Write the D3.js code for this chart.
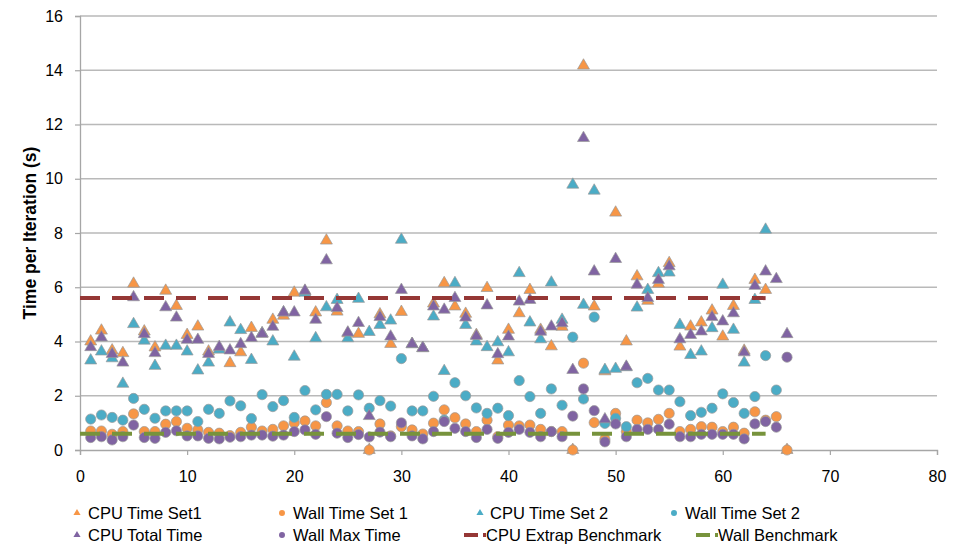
<!DOCTYPE html>
<html>
<head>
<meta charset="utf-8">
<script src="https://cdn.jsdelivr.net/npm/d3@7"></script>
<style>
  body { margin: 0; background: #ffffff; }
  svg { display: block; }
  text { font-family: "Liberation Sans", Arial, sans-serif; fill: #000; }
</style>
</head>
<body>
<svg id="chart" width="957" height="545"></svg>
<script>
// ---------------- DATA ----------------
const iterations = d3.range(1, 67); // 1..66

const cpuTimeSet1 = [4.0,4.4,3.67,3.57,6.13,4.37,3.78,5.87,5.31,4.24,4.55,3.63,3.71,3.2,3.6,4.5,4.3,4.8,4.95,5.8,
  5.85,5.07,7.72,5.1,4.3,4.28,0,5.0,3.91,5.09,3.9,3.75,5.4,6.15,5.29,5.02,4.24,5.97,3.3,4.43,
  5.04,5.9,4.43,3.82,4.54,0,14.17,5.29,2.9,8.75,4.0,6.4,5.5,6.13,6.89,3.81,4.55,4.7,5.14,4.18,
  5.31,3.66,6.27,5.9,null,0];

const wallTimeSet1 = [0.70,0.70,0.58,0.68,1.33,0.68,0.68,0.95,1.05,0.8,0.74,0.65,0.62,0.53,0.65,0.84,0.7,0.76,0.89,1.0,
  1.07,0.89,1.75,0.89,0.7,0.68,0,0.96,0.52,0.86,0.74,0.59,0.99,1.48,1.19,0.96,0.68,1.1,0.49,0.92,
  0.89,0.92,0.76,0.68,0.68,0,3.2,1.01,0.4,1.35,0.68,1.1,1.0,1.13,1.35,0.68,0.76,0.86,0.84,0.68,
  0.84,0.62,1.41,1.1,1.23,0];

const cpuTimeSet2 = [3.30,3.63,3.38,2.44,4.64,4.03,3.10,3.84,3.84,3.63,2.93,3.22,3.7,4.7,4.42,3.32,4.3,4.0,5.07,3.44,
  5.8,4.12,5.26,5.53,4.12,5.57,4.35,4.61,4.77,7.75,3.9,3.76,4.92,2.91,6.15,4.61,4.0,3.79,3.97,3.6,
  6.52,4.7,4.08,6.17,4.8,9.78,5.35,9.56,2.95,2.99,3.05,5.25,5.9,6.52,6.54,4.61,3.5,3.63,4.49,6.09,
  4.43,3.22,5.53,8.12,null,null];

const wallTimeSet2 = [1.14,1.29,1.2,1.1,1.9,1.5,1.17,1.44,1.44,1.44,1.05,1.5,1.35,1.81,1.63,1.16,2.04,1.6,1.82,1.2,
  2.19,1.48,2.05,2.05,1.44,2.03,1.54,1.82,1.62,3.37,1.44,1.44,1.98,1.1,2.48,2.0,1.55,1.35,1.54,1.27,
  2.56,1.97,1.35,2.25,1.65,4.16,1.88,4.9,0.98,1.17,0.86,2.48,2.64,2.21,2.21,1.78,1.27,1.39,1.54,2.07,
  1.75,1.35,1.97,3.48,2.21,null];

const cpuTotalTime = [3.79,4.15,3.54,3.22,5.63,4.27,3.57,5.26,4.88,4.06,4.06,3.54,3.8,3.67,3.9,4.13,4.28,4.54,5.07,5.07,
  5.87,4.8,6.99,5.23,4.33,4.68,1.25,4.9,4.18,5.9,3.91,3.76,5.29,5.17,5.6,4.88,4.2,5.33,3.53,4.18,
  5.47,5.53,4.36,4.55,4.67,2.95,11.5,6.58,1.13,7.04,3.07,6.09,5.6,6.27,6.77,4.08,4.24,4.37,4.9,4.74,
  5.04,3.6,6.05,6.58,6.3,4.27];

const wallMaxTime = [0.46,0.49,0.37,0.49,0.92,0.46,0.43,0.65,0.71,0.52,0.52,0.43,0.41,0.47,0.49,0.55,0.55,0.51,0.55,0.68,
  0.74,0.58,1.23,0.62,0.46,0.57,0.48,0.66,0.49,1.0,0.52,0.41,0.68,1.05,0.8,0.68,0.46,0.76,0.43,0.65,
  0.76,0.65,0.49,0.68,0.49,1.25,2.25,1.45,0.3,0.96,0.49,0.76,0.76,0.76,0.95,0.49,0.49,0.58,0.58,0.58,
  0.58,0.41,0.96,1.05,0.84,3.42];

const benchmarkX = [0, 64];
const cpuExtrapBenchmark = [5.6, 5.6];
const wallBenchmark = [0.6, 0.6];

const xTicks = [0,10,20,30,40,50,60,70,80];
const yTicks = [0,2,4,6,8,10,12,14,16];
const yAxisTitle = "Time per Iteration (s)";

const seriesNames = ["CPU Time Set1","Wall Time Set 1","CPU Time Set 2","Wall Time Set 2",
                     "CPU Total Time","Wall Max Time","CPU Extrap Benchmark","Wall Benchmark"];
const seriesColors = ["#F79646","#F79646","#4BACC6","#4BACC6","#8064A2","#8064A2","#953735","#77933C"];

// ---------------- CHART ----------------
const svg = d3.select("#chart");
const x = d3.scaleLinear().domain([0, 80]).range([80, 937]);
const y = d3.scaleLinear().domain([0, 16]).range([450, 16]);

// gridlines
svg.append("g").selectAll("line").data(yTicks.filter(d => d > 0)).join("line")
  .attr("x1", x(0)).attr("x2", x(80))
  .attr("y1", d => y(d)).attr("y2", d => y(d))
  .attr("stroke", "#b9b9b9").attr("stroke-width", 1.3);

// axes
const xAxis = d3.axisBottom(x).tickValues(xTicks).tickSize(5).tickPadding(16).tickFormat(d3.format("d"));
const gx = svg.append("g").attr("transform", `translate(0,${y(0)})`).call(xAxis);
const yAxis = d3.axisLeft(y).tickValues(yTicks).tickSize(5).tickPadding(12).tickFormat(d3.format("d"));
const gy = svg.append("g").attr("transform", `translate(${x(0)},0)`).call(yAxis);
[gx, gy].forEach(g => {
  g.select(".domain").attr("stroke", "#a6a6a6").attr("stroke-width", 1.3);
  g.selectAll(".tick line").attr("stroke", "#a6a6a6").attr("stroke-width", 1.2);
  g.selectAll(".tick text").attr("font-size", 16).attr("fill", "#000")
   .style("font-family", '"Liberation Sans", Arial, sans-serif');
});

svg.append("text")
  .attr("transform", `translate(36,${(y(0) + y(16)) / 2}) rotate(-90)`)
  .attr("text-anchor", "middle")
  .attr("font-size", 17.5).attr("font-weight", "bold")
  .text(yAxisTitle);

// markers
const triangle = d3.symbol().type(d3.symbolTriangle).size(62);
const circle = d3.symbol().type(d3.symbolCircle).size(82);

function drawMarkers(values, sym, color) {
  const pts = iterations.map((it, i) => ({ it, v: values[i] })).filter(d => d.v !== null);
  svg.append("g").selectAll("path").data(pts).join("path")
    .attr("d", sym)
    .attr("transform", d => `translate(${x(d.it)},${y(d.v)})`)
    .attr("fill", color)
    .attr("stroke", "#9a9a9a").attr("stroke-width", 0.7);
}
drawMarkers(cpuTimeSet1, triangle, seriesColors[0]);
drawMarkers(wallTimeSet1, circle, seriesColors[1]);
drawMarkers(cpuTimeSet2, triangle, seriesColors[2]);
drawMarkers(wallTimeSet2, circle, seriesColors[3]);
drawMarkers(cpuTotalTime, triangle, seriesColors[4]);
drawMarkers(wallMaxTime, circle, seriesColors[5]);

// benchmark lines
const line = d3.line().x(d => x(d[0])).y(d => y(d[1]));
svg.append("path").datum(benchmarkX.map((b, i) => [b, cpuExtrapBenchmark[i]]))
  .attr("d", line).attr("fill", "none").attr("stroke", seriesColors[6])
  .attr("stroke-width", 4).attr("stroke-dasharray", "20,12");
svg.append("path").datum(benchmarkX.map((b, i) => [b, wallBenchmark[i]]))
  .attr("d", line).attr("fill", "none").attr("stroke", seriesColors[7])
  .attr("stroke-width", 4).attr("stroke-dasharray", "20,12");

// legend
const legendItems = [
  { name: seriesNames[0], type: "tri", color: seriesColors[0], mx: 77, tx: 88, ty: 513 },
  { name: seriesNames[1], type: "circ", color: seriesColors[1], mx: 282, tx: 293, ty: 513 },
  { name: seriesNames[2], type: "tri", color: seriesColors[2], mx: 480, tx: 490, ty: 513 },
  { name: seriesNames[3], type: "circ", color: seriesColors[3], mx: 674, tx: 685, ty: 513 },
  { name: seriesNames[4], type: "tri", color: seriesColors[4], mx: 77, tx: 88, ty: 535 },
  { name: seriesNames[5], type: "circ", color: seriesColors[5], mx: 282, tx: 293, ty: 535 },
  { name: seriesNames[6], type: "line", color: seriesColors[6], mx: 464, tx: 486, ty: 535 },
  { name: seriesNames[7], type: "line", color: seriesColors[7], mx: 696, tx: 718, ty: 535 }
];
const lg = svg.append("g");
legendItems.forEach(it => {
  if (it.type === "tri") {
    lg.append("path").attr("d", d3.symbol().type(d3.symbolTriangle).size(22))
      .attr("transform", `translate(${it.mx},${it.ty})`).attr("fill", it.color);
  } else if (it.type === "circ") {
    lg.append("path").attr("d", d3.symbol().type(d3.symbolCircle).size(28))
      .attr("transform", `translate(${it.mx},${it.ty})`).attr("fill", it.color);
  } else {
    lg.append("line").attr("x1", it.mx).attr("x2", it.mx + 22)
      .attr("y1", it.ty).attr("y2", it.ty)
      .attr("stroke", it.color).attr("stroke-width", 4).attr("stroke-dasharray", "14,5");
  }
  lg.append("text").attr("x", it.tx).attr("y", it.ty).attr("dy", "0.35em")
    .attr("font-size", 16.5).text(it.name);
});
</script>
</body>
</html>
